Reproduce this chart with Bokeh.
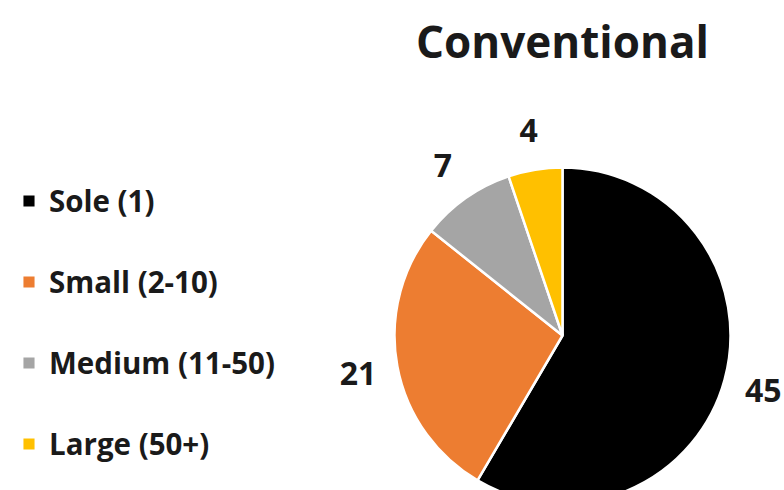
import numpy as np
from bokeh.plotting import figure
from bokeh.models import Range1d, ColumnDataSource, Legend, LegendItem, Label
from bokeh.embed import file_html
from bokeh.resources import INLINE
from bokeh.core.properties import value

categories = ["Sole (1)", "Small (2-10)", "Medium (11-50)", "Large (50+)"]
counts = [45, 21, 7, 4]
colors = ["#000000", "#ED7D31", "#A5A5A5", "#FFC000"]
title_text = "Conventional"

W, H = 784, 490
FONT = "Open Sans"
p = figure(width=W, height=H, x_range=Range1d(0, W), y_range=Range1d(0, H),
           output_backend="svg", toolbar_location=None, min_border=0)
p.axis.visible = False
p.grid.visible = False
p.outline_line_color = None

cx, cy, r = 562, 155, 168
total = sum(counts)
fr = np.array(counts) / total
ends = np.pi / 2 - 2 * np.pi * np.cumsum(fr)
starts = np.concatenate([[np.pi / 2], ends[:-1]])
mids = (starts + ends) / 2
lr = 208
src = ColumnDataSource(dict(
    x=[cx] * len(counts), y=[cy] * len(counts),
    start=starts, end=ends, color=colors, cat=categories,
    lx=cx + lr * np.cos(mids), ly=cy + lr * np.sin(mids),
    txt=[str(c) for c in counts],
))

wr = p.wedge(x="x", y="y", radius=r, start_angle="start", end_angle="end",
             direction="clock", fill_color="color", line_color="white",
             line_width=2.5, source=src)

p.text(x="lx", y="ly", text="txt", source=src, text_align="center",
       text_baseline="middle", text_font=value(FONT), text_font_style="bold",
       text_font_size="32px", text_color="#1a1a1a")

items = [LegendItem(label=c, renderers=[wr], index=i) for i, c in enumerate(categories)]
legend = Legend(items=items, location=(20, 26), orientation="vertical",
                glyph_width=17, glyph_height=17, label_standoff=12,
                spacing=40, padding=0, margin=0,
                border_line_color=None, background_fill_alpha=0,
                label_text_font=FONT, label_text_font_style="bold",
                label_text_font_size="29.5px", label_text_color="#1a1a1a")
p.add_layout(legend, "center")

p.add_layout(Label(x=cx, y=450, text=title_text, text_align="center",
                   text_baseline="alphabetic", text_font=FONT,
                   text_font_style="bold", text_font_size="44px",
                   text_color="#1a1a1a"))

open("out.html", "w").write(file_html(p, INLINE))
